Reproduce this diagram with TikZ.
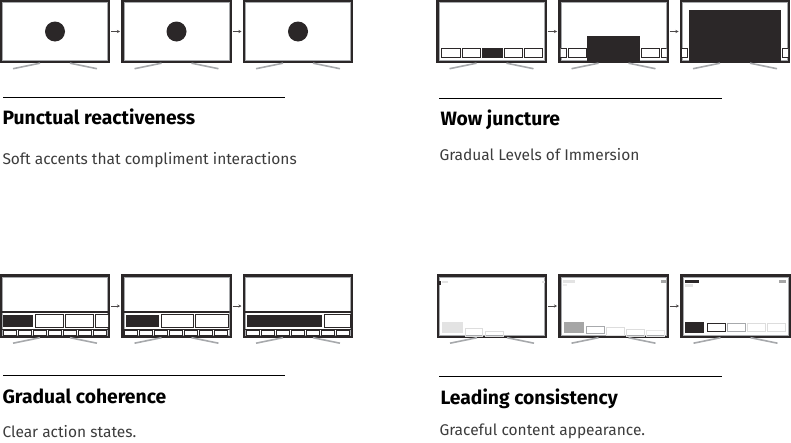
\documentclass[tikz,border=0pt]{standalone}
\usepackage{fontspec}
\setmainfont{Fira Sans}
\usetikzlibrary{arrows.meta, positioning, calc}
\definecolor{cdark}{HTML}{2B2728}
\definecolor{cgrey}{HTML}{A7A9AC}
\definecolor{cmid}{HTML}{A6A6A6}
\definecolor{clight}{HTML}{E3E3E3}
\definecolor{cfaint}{HTML}{DDDDDD}
\definecolor{ctext}{HTML}{3C3C3C}
\tikzset{
  every picture/.style={x=1pt, y=-1pt, line width=1pt},
  tv/.style={draw=cdark, fill=white, line width=2.2pt, minimum width=108pt, minimum height=61pt, inner sep=0pt, outer sep=0pt},
  rim/.style={draw=cgrey, line width=0.5pt},
  stand/.style={draw=cgrey, line width=1.6pt},
  arrow/.style={-{Stealth[length=3pt, width=3pt]}, draw=cdark!85, line width=0.6pt, shorten <=2pt, shorten >=2.5pt},
  tile/.style={draw=cdark, fill=white, line width=0.8pt},
  tab/.style={draw=cdark, line width=0.6pt},
  rule/.style={draw=black, line width=0.9pt},
  title/.style={font=\bfseries\fontsize{19.3}{22}\selectfont, anchor=base west, inner sep=0pt, text=black},
  note/.style={font=\fontsize{15.5}{18}\selectfont, anchor=base west, inner sep=0pt, text=ctext},
}

\begin{document}
\begin{tikzpicture}
  \useasboundingbox (0,0) rectangle (791,442);
  % screens
  \node[tv] (pr1) at (55,31.5) {};
  \node[tv] (pr2) at (176.5,31.5) {};
  \node[tv] (pr3) at (298,31.5) {};
  \node[tv] (wj1) at (491.5,31.5) {};
  \node[tv] (wj2) at (613.5,31.5) {};
  \node[tv] (wj3) at (735,31.5) {};
  \node[tv] (gc1) at (55,306) {};
  \node[tv] (gc2) at (176.5,306) {};
  \node[tv] (gc3) at (298,306) {};
  \node[tv] (lc1) at (492,306) {};
  \node[tv] (lc2) at (613.5,306) {};
  \node[tv] (lc3) at (735.5,306) {};
  \foreach \t in {pr1,pr2,pr3,wj1,wj2,wj3,gc1,gc2,gc3,lc1,lc2,lc3} {
    \draw[rim] ($(\t.north west)+(1.7,1.7)$) rectangle ($(\t.south east)+(-1.7,-1.7)$);
    \draw[stand] ($(\t.south)+(-15,1.2)$) -- ++(-27,5.5);
    \draw[stand] ($(\t.south)+(15,1.2)$) -- ++(27,5.5);
  }
  \draw[arrow] (pr1) -- (pr2);
  \draw[arrow] (pr2) -- (pr3);
  \draw[arrow] (wj1) -- (wj2);
  \draw[arrow] (wj2) -- (wj3);
  \draw[arrow] (gc1) -- (gc2);
  \draw[arrow] (gc2) -- (gc3);
  \draw[arrow] (lc1) -- (lc2);
  \draw[arrow] (lc2) -- (lc3);

  % punctual reactiveness
  \fill[cdark] (pr1.center) circle (10);
  \fill[cdark] (pr2.center) circle (10);
  \fill[cdark] (pr3.center) circle (10);

  % wow juncture
  \draw[tile] (441,48) rectangle (460,57);
  \draw[tile] (462,48) rectangle (480,57);
  \draw[tile, fill=cdark] (482,48) rectangle (502,57);
  \draw[tile] (504,48) rectangle (522,57);
  \draw[tile] (524,48) rectangle (542,57);
  \begin{scope}
    \clip ($(wj2.north west)+(1,1)$) rectangle ($(wj2.south east)+(-1,-1)$);
    \draw[tile] (548,48) rectangle (566,57);
    \draw[tile] (568,48) rectangle (586,57);
    \draw[tile] (641,48) rectangle (659,57);
    \draw[tile] (661,48) rectangle (679,57);
    \fill[cdark] (587,36) rectangle (640,62);
  \end{scope}
  \begin{scope}
    \clip ($(wj3.north west)+(1,1)$) rectangle ($(wj3.south east)+(-1,-1)$);
    \draw[tile] (669,48) rectangle (687,57);
    \draw[tile] (782,48) rectangle (800,57);
    \fill[cdark] (689,10) rectangle (781,62);
  \end{scope}

  % gradual coherence
  \begin{scope}
    \clip ($(gc1.north west)+(1,1)$) rectangle ($(gc1.south east)+(-1,-1)$);
    \draw[cdark, line width=1.2pt] (2,312) -- (108,312);
    \fill[cdark] (3,314.5) rectangle (33,327);
    \draw[tile] (35,314.5) rectangle (63,327);
    \draw[tile] (65,314.5) rectangle (93,327);
    \draw[tile] (95,314.5) rectangle (112,327);
    \draw[tab] (2,329) -- (108,329);
    \foreach \k in {0,...,6} \draw[tab] (3+15*\k,330.5) rectangle (16+15*\k,335);
  \end{scope}
  \begin{scope}
    \clip ($(gc2.north west)+(1,1)$) rectangle ($(gc2.south east)+(-1,-1)$);
    \draw[cdark, line width=1.2pt] (123.5,312) -- (229.5,312);
    \fill[cdark] (125.5,314.5) rectangle (158.5,327);
    \draw[tile] (161,314.5) rectangle (193,327);
    \draw[tile] (195,314.5) rectangle (228.5,327);
    \draw[tab] (123.5,329) -- (229.5,329);
    \foreach \k in {0,...,6} \draw[tab] (124.5+15*\k,330.5) rectangle (137.5+15*\k,335);
  \end{scope}
  \begin{scope}
    \clip ($(gc3.north west)+(1,1)$) rectangle ($(gc3.south east)+(-1,-1)$);
    \draw[cdark, line width=1.2pt] (245,312) -- (351,312);
    \fill[cdark] (247,314.5) rectangle (322,327);
    \draw[tile] (324.5,314.5) rectangle (350,327);
    \draw[tab] (245,329) -- (351,329);
    \foreach \k in {0,...,6} \draw[tab] (246+15*\k,330.5) rectangle (259+15*\k,335);
  \end{scope}

  % leading consistency
  \fill[cdark] (439,281) rectangle (441,285);
  \fill[clight] (442,281) rectangle (448,283);
  \fill[clight] (542,281) rectangle (545,283);
  \fill[clight] (442,322) rectangle (463,333);
  \draw[cfaint, line width=0.7pt] (465,328) rectangle (482,336);
  \draw[cfaint, line width=0.7pt] (485,331) rectangle (503,336);

  \fill[clight] (563,280) rectangle (575,283);
  \fill[clight!60] (563,284) rectangle (567,286);
  \fill[cmid] (661,280) rectangle (667,283);
  \fill[cmid] (564,322) rectangle (584,333);
  \draw[cgrey, line width=0.8pt] (586,326) rectangle (604,333.5);
  \draw[cfaint, line width=0.8pt] (606,327.5) rectangle (624,335);
  \draw[cfaint, line width=0.7pt] (626,329) rectangle (644,336);
  \draw[cfaint!70, line width=0.7pt] (646,330.5) rectangle (664,336);

  \fill[cdark] (685,280) rectangle (699,283);
  \fill[clight] (685,284) rectangle (693,287);
  \fill[cmid] (779,280) rectangle (786,283);
  \fill[cdark] (685,322) rectangle (704,333);
  \draw[cdark, line width=0.9pt] (707,323.5) rectangle (725,331.5);
  \draw[cgrey, line width=0.8pt] (727,323.5) rectangle (745,331.5);
  \draw[cfaint, line width=0.8pt] (747,323.5) rectangle (765,331.5);
  \draw[cfaint, line width=0.8pt] (767,323.5) rectangle (785,331.5);

  % captions
  \draw[rule] (3,97) -- (285,97);
  \draw[rule] (439,98) -- (722,98);
  \draw[rule] (3,375) -- (285,375);
  \draw[rule] (439,376) -- (722,376);
  \node[title] (prtitle) at (2,124) {Punctual reactiveness};
  \node[note] (prnote) at (2,164) {Soft accents that compliment interactions};
  \node[title] (wjtitle) at (440,125) {Wow juncture};
  \node[note] (wjnote) at (439,160) {Gradual Levels of Immersion};
  \node[title] (gctitle) at (2,403) {Gradual coherence};
  \node[note] (gcnote) at (2,437) {Clear action states.};
  \node[title] (lctitle) at (440,404) {Leading consistency};
  \node[note] (lcnote) at (439,435) {Graceful content appearance.};
\end{tikzpicture}
\end{document}
